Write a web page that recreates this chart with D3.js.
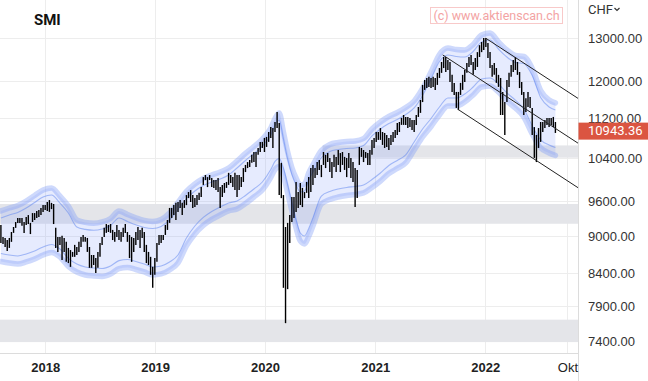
<!DOCTYPE html>
<html><head><meta charset="utf-8">
<script src="https://cdn.jsdelivr.net/npm/d3@7"></script>
<style>
html,body{margin:0;padding:0;background:#fff;}
svg{display:block;font-family:Roboto,"Noto Sans",sans-serif;}
</style></head><body>
<svg id="chart" width="648" height="381"></svg>
<script>
// ---------------- data ----------------
const title = "SMI";
const currency = "CHF";
const watermark = "(c) www.aktienscan.ch";
const firstWeek = "2017-08-07";   // weekly bars, one per week from here
const highs = [
 9185, 8980, 8965, 8930, 8965, 9065, 9150, 9235, 9305, 9305,
 9305, 9235, 9320, 9355, 9220, 9390, 9390, 9425, 9445, 9480,
 9530, 9530, 9585, 9620, 9570, 9550, 9135, 8980, 8980, 9000,
 8965, 8900, 8800, 8765, 8735, 8850, 8815, 8900, 8980, 9015,
 8980, 8965, 8815, 8685, 8685, 8635, 8735, 8880, 8980, 9135,
 9200, 9185, 9200, 9100, 9065, 9185, 9100, 9065, 9135, 9200,
 9065, 9015, 8980, 8965, 9065, 9150, 9100, 9135, 9065, 8850,
 8735, 8655, 8495, 8635, 8880, 9015, 9015, 9015, 9185, 9270,
 9480, 9480, 9530, 9570, 9585, 9620, 9570, 9620, 9710, 9765,
 9800, 9710, 9655, 9710, 9750, 9855, 10040, 10080, 10040, 10080,
 10025, 9985, 9985, 10025, 9855, 9895, 9930, 9950, 10120, 10080,
 10040, 10120, 10080, 10080, 10040, 10210, 10270, 10325, 10365, 10465,
 10520, 10520, 10600, 10720, 10720, 10800, 10820, 10920, 11020, 11000,
 11125, 11335, 11105, 10310, 9710, 9150, 9220, 9355, 9675, 9675,
 9950, 9765, 9930, 9840, 9765, 9950, 10040, 10210, 10270, 10210,
 10325, 10365, 10270, 10520, 10465, 10500, 10405, 10325, 10465, 10425,
 10560, 10500, 10520, 10425, 10405, 10500, 10405, 10325, 10210, 10175,
 10620, 10600, 10560, 10520, 10500, 10560, 10760, 10800, 10920, 10920,
 11000, 10920, 10900, 10860, 10800, 10860, 10920, 10960, 11105, 11125,
 11210, 11270, 11230, 11230, 11210, 11165, 11165, 11270, 11440, 11590,
 11920, 12030, 12075, 12100, 12075, 12100, 12075, 12190, 12300, 12440,
 12555, 12555, 12485, 12440, 12145, 11965, 11765, 11765, 11965, 12145,
 12255, 12415, 12555, 12600, 12440, 12530, 12670, 12835, 12910, 13010,
 13010, 12885, 12670, 12370, 12415, 12300, 12145, 12075, 11765, 11545,
 12030, 12190, 12370, 12485, 12555, 12440, 12210, 11985, 11765, 11630,
 11765, 11655, 11420, 11020, 10860, 11000, 11125, 11125, 11165, 11210,
 11210, 11210, 11230, 11125
];
const lows = [
 8880, 8865, 8815, 8750, 8800, 8900, 9050, 9135, 9220, 9220,
 9170, 9050, 9185, 9200, 9030, 9235, 9270, 9305, 9320, 9355,
 9410, 9445, 9425, 9410, 9460, 9200, 8800, 8735, 8850, 8605,
 8735, 8575, 8555, 8495, 8655, 8655, 8685, 8735, 8815, 8900,
 8900, 8735, 8480, 8480, 8525, 8400, 8480, 8655, 8850, 8980,
 9050, 9065, 9050, 8930, 8900, 8980, 8930, 8900, 8980, 9050,
 8900, 8635, 8575, 8735, 8850, 8930, 8800, 8965, 8735, 8555,
 8525, 8370, 8170, 8370, 8575, 8850, 8880, 8930, 9015, 9100,
 9220, 9305, 9355, 9270, 9410, 9480, 9355, 9480, 9530, 9655,
 9585, 9480, 9495, 9530, 9620, 9675, 9895, 9985, 9855, 9985,
 9855, 9840, 9800, 9765, 9480, 9675, 9750, 9840, 9895, 9930,
 9855, 9800, 9675, 9800, 9855, 9950, 10135, 10210, 10230, 10310,
 10325, 10230, 10465, 10520, 10600, 10520, 10620, 10720, 10800, 10600,
 10920, 11000, 9710, 9655, 8170, 7650, 8150, 8880, 9235, 9305,
 9410, 9480, 9530, 9495, 9655, 9750, 9655, 9765, 9895, 10025,
 10080, 10175, 10040, 10270, 10210, 10325, 10135, 10025, 10230, 10135,
 10270, 10135, 10270, 10175, 10040, 10210, 10025, 9950, 9495, 9655,
 10270, 10425, 10325, 10405, 10270, 10270, 10465, 10600, 10720, 10760,
 10760, 10660, 10600, 10620, 10560, 10660, 10720, 10800, 10860, 10920,
 11065, 11065, 11065, 11000, 11020, 10960, 10920, 11065, 11230, 11315,
 11545, 11810, 11850, 11875, 11850, 11875, 11810, 11920, 12075, 12190,
 12300, 12210, 12255, 11985, 11765, 11700, 11420, 11375, 11700, 11810,
 11985, 12190, 12325, 12370, 12145, 12255, 12325, 12555, 12670, 12720,
 12790, 12530, 12300, 12100, 12145, 11965, 11875, 11270, 11270, 10860,
 11545, 11875, 12100, 12210, 12255, 12145, 11850, 11700, 11270, 11335,
 11440, 11420, 10860, 10405, 10325, 10600, 10720, 10920, 11000, 11065,
 11020, 11065, 11020, 10900
];
const lastClose = 10943.36;

// envelope band, sampled at these week numbers
const bandWeek = [0,4,8,12,16,20,24,28,32,36,40,44,48,52,56,60,64,68,72,76,80,84,88,92,96,100,104,108,112,116,120,124,128,
 130,132,134,136,138,140,142,144,146,148,
 152,156,160,164,168,172,176,180,184,188,192,196,200,204,208,212,216,220,224,228,232,236,240,244,248,252,256,260,263];
const bandUpper = [
 9427, 9479, 9524, 9603, 9703, 9802, 9839, 9693, 9515, 9270,
 9228, 9214, 9236, 9296, 9427, 9366, 9308, 9262, 9245, 9279,
 9392, 9577, 9775, 9912, 10014, 10080, 10136, 10212, 10346, 10492,
 10629, 10778, 11002,
 11197, 11313, 10920, 10521, 10221, 10024, 9894, 9912, 10118, 10270,
 10550, 10669, 10708, 10728, 10738, 10788, 10981, 11125, 11239, 11323,
 11430, 11569, 11841, 12210, 12615, 12767, 12732, 12720, 12851, 13081,
 13130, 12911, 12720, 12591, 12568, 12290, 11797, 11590,
 11526];
const bandUpperInner = [
 9305, 9356, 9401, 9479, 9577, 9675, 9712, 9567, 9392, 9150,
 9109, 9095, 9116, 9176, 9305, 9245, 9187, 9142, 9125, 9159,
 9270, 9453, 9648, 9784, 9884, 9949, 10005, 10080, 10212, 10356,
 10491, 10638, 10860,
 11052, 11166, 10779, 10385, 10089, 9894, 9766, 9784, 9987, 10137,
 10413, 10531, 10569, 10589, 10599, 10648, 10839, 10981, 11093, 11176,
 11282, 11419, 11688, 12052, 12452, 12601, 12567, 12555, 12685, 12912,
 12960, 12744, 12555, 12428, 12405, 12131, 11644, 11440,
 11377];
const bandLower = [
 8581, 8557, 8541, 8573, 8621, 8685, 8726, 8653, 8502, 8415,
 8368, 8352, 8345, 8384, 8467, 8486, 8454, 8415, 8368, 8384,
 8446, 8557, 8832, 9032, 9176, 9279, 9357, 9427, 9462, 9559,
 9675, 9802, 10033,
 10184, 10241, 10061, 9748, 9427, 9134, 8914, 8865, 8990, 9168,
 9550, 9630, 9675, 9703, 9721, 9748, 9848, 9967, 10108, 10203,
 10308, 10560, 10818, 11032, 11271, 11461, 11461, 11547, 11699, 11874,
 11897, 11764, 11569, 11418, 11229, 10879, 10600, 10502,
 10453];
const bandLowerInner = [
 8710, 8685, 8669, 8702, 8750, 8815, 8857, 8783, 8630, 8541,
 8494, 8477, 8470, 8510, 8594, 8613, 8581, 8541, 8494, 8510,
 8573, 8685, 8964, 9167, 9314, 9418, 9497, 9568, 9604, 9702,
 9820, 9949, 10183,
 10337, 10395, 10212, 9894, 9568, 9271, 9048, 8998, 9125, 9306,
 9693, 9774, 9820, 9849, 9867, 9894, 9996, 10117, 10260, 10356,
 10463, 10718, 10980, 11197, 11440, 11633, 11633, 11720, 11874, 12052,
 12075, 11940, 11743, 11589, 11397, 11042, 10759, 10660,
 10610];

// grey support/resistance zones
const zoneFrom = ["2017-08-04", "2017-08-04", "2020-07-10"];
const zoneLow  = [7385, 9205, 10410];
const zoneHigh = [7700, 9550, 10650];

// downtrend channel
const channelStartDate  = ["2022-01-03", "2021-08-13", "2021-10-02"];
const channelStartValue = [13000, 12603, 11391];
const channelEndDate    = "2022-11-05";
const channelEndValue   = [11625, 10695, 9844];

const yTicks = [13000, 12000, 11200, 10400, 9600, 9000, 8400, 7900, 7400];
const xTickDates  = ["2018-01-01","2019-01-01","2020-01-01","2021-01-01","2022-01-01","2022-10-01"];
const xTickLabels = ["2018","2019","2020","2021","2022","Okt"];
const xDomain = ["2017-08-04", "2022-11-05"];
const yDomain = [7236.6, 13961];

// ---------------- drawing ----------------
const W = 648, H = 381, PW = 578, PH = 353;
const parse = d3.utcParse("%Y-%m-%d");
const t0 = parse(firstWeek);
const weekDate = i => d3.utcDay.offset(t0, 7 * i);

const x = d3.scaleUtc().domain(xDomain.map(parse)).range([0, PW]);
const y = d3.scaleLog().domain(yDomain).range([PH, 0]);

const svg = d3.select("#chart");
svg.append("rect").attr("width", W).attr("height", H).attr("fill", "#fff");
svg.append("defs").append("clipPath").attr("id", "plot")
  .append("rect").attr("width", PW).attr("height", PH);

// grid
const grid = svg.append("g");
grid.selectAll("line.h").data(yTicks).join("line")
  .attr("x1", 0).attr("x2", PW)
  .attr("y1", d => Math.round(y(d)) + 0.5).attr("y2", d => Math.round(y(d)) + 0.5)
  .attr("stroke", "#ededed");
grid.selectAll("line.v").data(xTickDates).join("line")
  .attr("x1", d => Math.round(x(parse(d))) + 0.5).attr("x2", d => Math.round(x(parse(d))) + 0.5)
  .attr("y1", 0).attr("y2", PH)
  .attr("stroke", "#ededed");

const plot = svg.append("g").attr("clip-path", "url(#plot)");

// zones
plot.selectAll("rect.zone").data(zoneLow).join("rect")
  .attr("x", (d, i) => x(parse(zoneFrom[i])))
  .attr("width", (d, i) => PW - x(parse(zoneFrom[i])))
  .attr("y", (d, i) => y(zoneHigh[i]))
  .attr("height", (d, i) => y(d) - y(zoneHigh[i]))
  .attr("fill", "#e4e5e9");

// band
const bx = (d, i) => x(weekDate(bandWeek[i]));
const area = d3.area().x(bx).y0((d, i) => y(bandLower[i])).y1((d, i) => y(bandUpper[i])).curve(d3.curveMonotoneX);
plot.append("path").datum(bandUpper).attr("d", area).attr("fill", "rgba(120,150,250,0.19)");
const line = arr => d3.line().x(bx).y(d => y(d)).curve(d3.curveMonotoneX)(arr);
[bandUpper, bandLower].forEach(arr => {
  plot.append("path").attr("d", line(arr)).attr("fill", "none")
    .attr("stroke", "rgba(125,155,248,0.38)").attr("stroke-width", 5.5)
    .attr("stroke-linecap", "round").attr("stroke-linejoin", "round");
});
[bandUpperInner, bandLowerInner].forEach(arr => {
  plot.append("path").attr("d", line(arr)).attr("fill", "none")
    .attr("stroke", "rgba(90,130,240,0.5)").attr("stroke-width", 1.1);
});

// bars
plot.selectAll("line.bar").data(highs).join("line")
  .attr("x1", (d, i) => x(weekDate(i))).attr("x2", (d, i) => x(weekDate(i)))
  .attr("y1", d => y(d)).attr("y2", (d, i) => y(lows[i]))
  .attr("stroke", "#000").attr("stroke-width", 1.4);

// channel
plot.selectAll("line.ch").data(channelStartValue).join("line")
  .attr("x1", (d, i) => x(parse(channelStartDate[i])))
  .attr("y1", d => y(d))
  .attr("x2", x(parse(channelEndDate)))
  .attr("y2", (d, i) => y(channelEndValue[i]))
  .attr("stroke", "#222").attr("stroke-width", 1);

// axes borders
svg.append("line").attr("x1", 0).attr("x2", PW + 0.5).attr("y1", PH + 0.5).attr("y2", PH + 0.5).attr("stroke", "#dcdcdc");
svg.append("line").attr("x1", PW + 0.5).attr("x2", PW + 0.5).attr("y1", 0).attr("y2", H).attr("stroke", "#dcdcdc");

// right axis
const ya = svg.append("g").attr("transform", `translate(${PW},0)`)
  .call(d3.axisRight(y).tickValues(yTicks).tickFormat(d3.format(".2f")).tickSize(0).tickPadding(10));
ya.select(".domain").remove();
ya.selectAll("text").attr("fill", "#333").style("font-size", "13px");

// bottom axis
const xa = svg.append("g").attr("transform", `translate(0,${PH})`)
  .call(d3.axisBottom(x).tickValues(xTickDates.map(parse))
    .tickFormat((d, i) => xTickLabels[i]).tickSize(0).tickPadding(10));
xa.select(".domain").remove();
xa.selectAll("text").attr("fill", "#222").style("font-size", "13px")
  .style("font-weight", (d, i) => xTickLabels[i] === "Okt" ? "400" : "700");

// price label
const py = y(lastClose);
svg.append("rect").attr("x", PW + 0.5).attr("y", py - 8.2).attr("width", W - PW).attr("height", 17).attr("fill", "#db5541");
svg.append("text").attr("x", 588).attr("y", py).attr("dy", "0.35em").attr("fill", "#fff")
  .style("font-size", "13px").text(d3.format(".2f")(lastClose));

// title + currency
svg.append("text").attr("x", 34).attr("y", 25).attr("fill", "#111")
  .style("font-size", "15px").style("font-weight", "700").text(title);
svg.append("text").attr("x", 588).attr("y", 14).attr("fill", "#333").style("font-size", "13px").text(currency);
svg.append("path").attr("d", "M614.5,8 l2.5,2.5 l2.5,-2.5").attr("fill", "none").attr("stroke", "#333").attr("stroke-width", 1.2);

// watermark
svg.append("rect").attr("x", 430.5).attr("y", 7.5).attr("width", 132).attr("height", 16)
  .attr("fill", "rgba(255,255,255,0.6)").attr("stroke", "#f8c9c9");
svg.append("text").attr("x", 496.5).attr("y", 15.5).attr("dy", "0.35em").attr("text-anchor", "middle")
  .attr("fill", "#f3a3a3").style("font-size", "12.5px").text(watermark);
</script>
</body></html>
